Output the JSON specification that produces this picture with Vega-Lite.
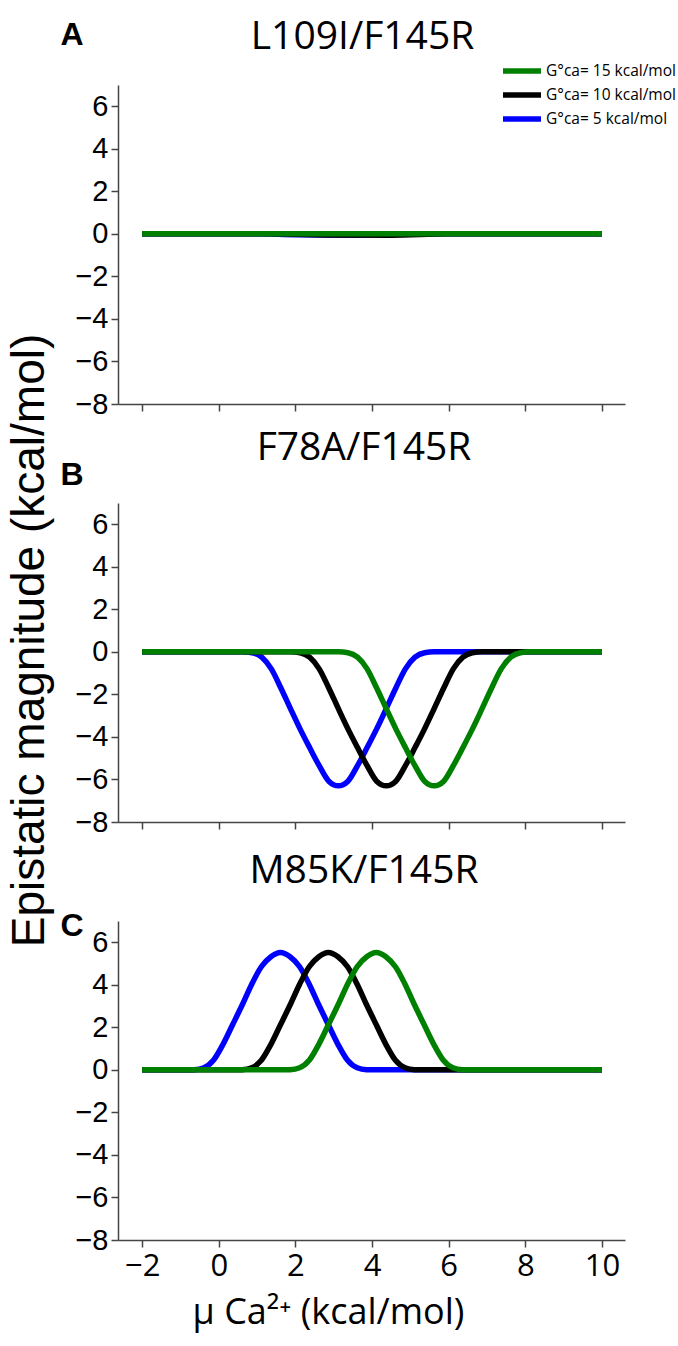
{
  "$schema": "https://vega.github.io/schema/vega-lite/v6.json",
  "padding": {"left": 6, "top": 18, "right": 6, "bottom": 10},
  "background": "white",
  "spacing": 99,
  "bounds": "flush",
  "config": {
    "view": {"stroke": null},
    "axis": {"grid": false, "domainColor": "#444444", "tickColor": "#444444", "domainWidth": 1.5, "tickWidth": 1.5, "tickSize": 7, "labelFont": "Liberation Sans", "labelFontSize": 29, "labelColor": "black", "titleColor": "black", "titleFontWeight": "normal"},
    "legend": {"orient": "none", "legendX": 391, "legendY": -27, "symbolType": "M-1.9,0L1.9,0", "symbolStrokeWidth": 5.5, "symbolSize": 400, "labelFont": "Open Sans", "labelFontSize": 15.5, "labelColor": "black", "rowPadding": -1, "labelOffset": 11, "labelLimit": 300}
  },
  "datasets": {
    "d": [
      {"p":"A","g":"5","x":-2,"y":0},{"p":"A","g":"5","x":1,"y":0},{"p":"A","g":"5","x":2,"y":-0.04},{"p":"A","g":"5","x":3,"y":-0.05},{"p":"A","g":"5","x":4,"y":-0.03},{"p":"A","g":"5","x":5,"y":0},{"p":"A","g":"5","x":10,"y":0},
      {"p":"A","g":"10","x":-2,"y":0},{"p":"A","g":"10","x":1.5,"y":0},{"p":"A","g":"10","x":3,"y":-0.05},{"p":"A","g":"10","x":4.5,"y":-0.06},{"p":"A","g":"10","x":6,"y":0},{"p":"A","g":"10","x":10,"y":0},
      {"p":"A","g":"15","x":-2,"y":0},{"p":"A","g":"15","x":4,"y":0},{"p":"A","g":"15","x":10,"y":0},

      {"p":"B","g":"5","x":-2,"y":0},
      {"p":"B","g":"5","x":0.62,"y":0},{"p":"B","g":"5","x":0.87,"y":-0.04},{"p":"B","g":"5","x":1.12,"y":-0.25},{"p":"B","g":"5","x":1.37,"y":-0.8},{"p":"B","g":"5","x":1.62,"y":-1.7},{"p":"B","g":"5","x":1.87,"y":-2.67},{"p":"B","g":"5","x":2.12,"y":-3.62},{"p":"B","g":"5","x":2.37,"y":-4.5},{"p":"B","g":"5","x":2.62,"y":-5.35},{"p":"B","g":"5","x":2.87,"y":-6.08},{"p":"B","g":"5","x":3.12,"y":-6.3},{"p":"B","g":"5","x":3.37,"y":-6.08},{"p":"B","g":"5","x":3.62,"y":-5.35},{"p":"B","g":"5","x":3.87,"y":-4.5},{"p":"B","g":"5","x":4.12,"y":-3.62},{"p":"B","g":"5","x":4.37,"y":-2.67},{"p":"B","g":"5","x":4.62,"y":-1.7},{"p":"B","g":"5","x":4.87,"y":-0.8},{"p":"B","g":"5","x":5.12,"y":-0.25},{"p":"B","g":"5","x":5.37,"y":-0.04},{"p":"B","g":"5","x":5.62,"y":0},
      {"p":"B","g":"5","x":10,"y":0},

      {"p":"B","g":"10","x":-2,"y":0},
      {"p":"B","g":"10","x":1.87,"y":0},{"p":"B","g":"10","x":2.12,"y":-0.04},{"p":"B","g":"10","x":2.37,"y":-0.25},{"p":"B","g":"10","x":2.62,"y":-0.8},{"p":"B","g":"10","x":2.87,"y":-1.7},{"p":"B","g":"10","x":3.12,"y":-2.67},{"p":"B","g":"10","x":3.37,"y":-3.62},{"p":"B","g":"10","x":3.62,"y":-4.5},{"p":"B","g":"10","x":3.87,"y":-5.35},{"p":"B","g":"10","x":4.12,"y":-6.08},{"p":"B","g":"10","x":4.37,"y":-6.3},{"p":"B","g":"10","x":4.62,"y":-6.08},{"p":"B","g":"10","x":4.87,"y":-5.35},{"p":"B","g":"10","x":5.12,"y":-4.5},{"p":"B","g":"10","x":5.37,"y":-3.62},{"p":"B","g":"10","x":5.62,"y":-2.67},{"p":"B","g":"10","x":5.87,"y":-1.7},{"p":"B","g":"10","x":6.12,"y":-0.8},{"p":"B","g":"10","x":6.37,"y":-0.25},{"p":"B","g":"10","x":6.62,"y":-0.04},{"p":"B","g":"10","x":6.87,"y":0},
      {"p":"B","g":"10","x":10,"y":0},

      {"p":"B","g":"15","x":-2,"y":0},
      {"p":"B","g":"15","x":3.12,"y":0},{"p":"B","g":"15","x":3.37,"y":-0.04},{"p":"B","g":"15","x":3.62,"y":-0.25},{"p":"B","g":"15","x":3.87,"y":-0.8},{"p":"B","g":"15","x":4.12,"y":-1.7},{"p":"B","g":"15","x":4.37,"y":-2.67},{"p":"B","g":"15","x":4.62,"y":-3.62},{"p":"B","g":"15","x":4.87,"y":-4.5},{"p":"B","g":"15","x":5.12,"y":-5.35},{"p":"B","g":"15","x":5.37,"y":-6.08},{"p":"B","g":"15","x":5.62,"y":-6.3},{"p":"B","g":"15","x":5.87,"y":-6.08},{"p":"B","g":"15","x":6.12,"y":-5.35},{"p":"B","g":"15","x":6.37,"y":-4.5},{"p":"B","g":"15","x":6.62,"y":-3.62},{"p":"B","g":"15","x":6.87,"y":-2.67},{"p":"B","g":"15","x":7.12,"y":-1.7},{"p":"B","g":"15","x":7.37,"y":-0.8},{"p":"B","g":"15","x":7.62,"y":-0.25},{"p":"B","g":"15","x":7.87,"y":-0.04},{"p":"B","g":"15","x":8.12,"y":0},
      {"p":"B","g":"15","x":10,"y":0},

      {"p":"C","g":"5","x":-2,"y":0},
      {"p":"C","g":"5","x":-0.89,"y":0},{"p":"C","g":"5","x":-0.64,"y":0.01},{"p":"C","g":"5","x":-0.39,"y":0.1},{"p":"C","g":"5","x":-0.14,"y":0.45},{"p":"C","g":"5","x":0.11,"y":1.2},{"p":"C","g":"5","x":0.36,"y":2.12},{"p":"C","g":"5","x":0.61,"y":3.05},{"p":"C","g":"5","x":0.86,"y":4.03},{"p":"C","g":"5","x":1.11,"y":4.85},{"p":"C","g":"5","x":1.36,"y":5.32},{"p":"C","g":"5","x":1.61,"y":5.52},{"p":"C","g":"5","x":1.86,"y":5.32},{"p":"C","g":"5","x":2.11,"y":4.85},{"p":"C","g":"5","x":2.36,"y":4.03},{"p":"C","g":"5","x":2.61,"y":3.05},{"p":"C","g":"5","x":2.86,"y":2.12},{"p":"C","g":"5","x":3.11,"y":1.2},{"p":"C","g":"5","x":3.36,"y":0.45},{"p":"C","g":"5","x":3.61,"y":0.1},{"p":"C","g":"5","x":3.86,"y":0.01},{"p":"C","g":"5","x":4.11,"y":0},
      {"p":"C","g":"5","x":10,"y":0},

      {"p":"C","g":"10","x":-2,"y":0},
      {"p":"C","g":"10","x":0.36,"y":0},{"p":"C","g":"10","x":0.61,"y":0.01},{"p":"C","g":"10","x":0.86,"y":0.1},{"p":"C","g":"10","x":1.11,"y":0.45},{"p":"C","g":"10","x":1.36,"y":1.2},{"p":"C","g":"10","x":1.61,"y":2.12},{"p":"C","g":"10","x":1.86,"y":3.05},{"p":"C","g":"10","x":2.11,"y":4.03},{"p":"C","g":"10","x":2.36,"y":4.85},{"p":"C","g":"10","x":2.61,"y":5.32},{"p":"C","g":"10","x":2.86,"y":5.52},{"p":"C","g":"10","x":3.11,"y":5.32},{"p":"C","g":"10","x":3.36,"y":4.85},{"p":"C","g":"10","x":3.61,"y":4.03},{"p":"C","g":"10","x":3.86,"y":3.05},{"p":"C","g":"10","x":4.11,"y":2.12},{"p":"C","g":"10","x":4.36,"y":1.2},{"p":"C","g":"10","x":4.61,"y":0.45},{"p":"C","g":"10","x":4.86,"y":0.1},{"p":"C","g":"10","x":5.11,"y":0.01},{"p":"C","g":"10","x":5.36,"y":0},
      {"p":"C","g":"10","x":10,"y":0},

      {"p":"C","g":"15","x":-2,"y":0},
      {"p":"C","g":"15","x":1.61,"y":0},{"p":"C","g":"15","x":1.86,"y":0.01},{"p":"C","g":"15","x":2.11,"y":0.1},{"p":"C","g":"15","x":2.36,"y":0.45},{"p":"C","g":"15","x":2.61,"y":1.2},{"p":"C","g":"15","x":2.86,"y":2.12},{"p":"C","g":"15","x":3.11,"y":3.05},{"p":"C","g":"15","x":3.36,"y":4.03},{"p":"C","g":"15","x":3.61,"y":4.85},{"p":"C","g":"15","x":3.86,"y":5.32},{"p":"C","g":"15","x":4.11,"y":5.52},{"p":"C","g":"15","x":4.36,"y":5.32},{"p":"C","g":"15","x":4.61,"y":4.85},{"p":"C","g":"15","x":4.86,"y":4.03},{"p":"C","g":"15","x":5.11,"y":3.05},{"p":"C","g":"15","x":5.36,"y":2.12},{"p":"C","g":"15","x":5.61,"y":1.2},{"p":"C","g":"15","x":5.86,"y":0.45},{"p":"C","g":"15","x":6.11,"y":0.1},{"p":"C","g":"15","x":6.36,"y":0.01},{"p":"C","g":"15","x":6.61,"y":0},
      {"p":"C","g":"15","x":10,"y":0}
    ]
  },
  "vconcat": [
    {
      "width": 507, "height": 319,
      "layer": [
        {
          "data": {"name": "d"},
          "transform": [{"filter": "datum.p == 'A'"}],
          "mark": {"type": "line", "strokeWidth": 5.5, "interpolate": "monotone"},
          "encoding": {
            "x": {"field": "x", "type": "quantitative", "scale": {"domain": [-2.63, 10.6], "nice": false, "zero": false}, "axis": {"values": [-2, 0, 2, 4, 6, 8, 10], "labels": false, "title": null}},
            "y": {"field": "y", "type": "quantitative", "scale": {"domain": [-8, 7], "nice": false, "zero": false}, "axis": {"values": [-8, -6, -4, -2, 0, 2, 4, 6], "format": "d", "title": null, "labelPadding": 3}},
            "color": {"field": "g", "type": "nominal", "title": null, "scale": {"domain": ["15", "10", "5"], "range": ["#008000", "#000000", "#0000ff"]}, "legend": {"labelExpr": "'G°ca= ' + datum.label + ' kcal/mol'"}}
          }
        },
        {
          "data": {"values": [{}]},
          "mark": {"type": "text", "font": "Liberation Sans", "fontWeight": "bold", "fontSize": 32, "baseline": "middle", "align": "center", "color": "black"},
          "encoding": {"x": {"datum": -3.83, "type": "quantitative"}, "y": {"datum": 9.35, "type": "quantitative"}, "text": {"value": "A"}}
        },
        {
          "data": {"values": [{}]},
          "mark": {"type": "text", "font": "Open Sans", "fontSize": 39, "baseline": "alphabetic", "align": "center", "color": "black"},
          "encoding": {"x": {"datum": 3.75, "type": "quantitative"}, "y": {"datum": 8.69, "type": "quantitative"}, "text": {"value": "L109I/F145R"}}
        }
      ]
    },
    {
      "width": 507, "height": 319,
      "layer": [
        {
          "data": {"name": "d"},
          "transform": [{"filter": "datum.p == 'B'"}],
          "mark": {"type": "line", "strokeWidth": 5.5, "interpolate": "monotone"},
          "encoding": {
            "x": {"field": "x", "type": "quantitative", "scale": {"domain": [-2.63, 10.6], "nice": false, "zero": false}, "axis": {"values": [-2, 0, 2, 4, 6, 8, 10], "labels": false, "title": null}},
            "y": {"field": "y", "type": "quantitative", "scale": {"domain": [-8, 7], "nice": false, "zero": false}, "axis": {"values": [-8, -6, -4, -2, 0, 2, 4, 6], "format": "d", "title": "Epistatic magnitude (kcal/mol)", "titleFont": "Liberation Sans", "titleFontSize": 46, "titlePadding": 21, "titleY": 137, "labelPadding": 3}},
            "color": {"field": "g", "type": "nominal", "title": null, "scale": {"domain": ["15", "10", "5"], "range": ["#008000", "#000000", "#0000ff"]}, "legend": {"labelExpr": "'G°ca= ' + datum.label + ' kcal/mol'"}}
          }
        },
        {
          "data": {"values": [{}]},
          "mark": {"type": "text", "font": "Liberation Sans", "fontWeight": "bold", "fontSize": 32, "baseline": "middle", "align": "center", "color": "black"},
          "encoding": {"x": {"datum": -3.83, "type": "quantitative"}, "y": {"datum": 8.3, "type": "quantitative"}, "text": {"value": "B"}}
        },
        {
          "data": {"values": [{}]},
          "mark": {"type": "text", "font": "Open Sans", "fontSize": 39, "baseline": "alphabetic", "align": "center", "color": "black"},
          "encoding": {"x": {"datum": 3.79, "type": "quantitative"}, "y": {"datum": 9.0, "type": "quantitative"}, "text": {"value": "F78A/F145R"}}
        }
      ]
    },
    {
      "width": 507, "height": 319,
      "layer": [
        {
          "data": {"name": "d"},
          "transform": [{"filter": "datum.p == 'C'"}],
          "mark": {"type": "line", "strokeWidth": 5.5, "interpolate": "monotone"},
          "encoding": {
            "x": {"field": "x", "type": "quantitative", "scale": {"domain": [-2.63, 10.6], "nice": false, "zero": false}, "axis": {"values": [-2, 0, 2, 4, 6, 8, 10], "format": "d", "labelFont": "Open Sans", "labelFontSize": 31, "labelPadding": 4, "title": "μ Ca²⁺ (kcal/mol)", "titleFont": "Open Sans", "titleFontSize": 36, "titlePadding": 14, "titleX": 210}},
            "y": {"field": "y", "type": "quantitative", "scale": {"domain": [-8, 7], "nice": false, "zero": false}, "axis": {"values": [-8, -6, -4, -2, 0, 2, 4, 6], "format": "d", "title": null, "labelPadding": 3}},
            "color": {"field": "g", "type": "nominal", "title": null, "scale": {"domain": ["15", "10", "5"], "range": ["#008000", "#000000", "#0000ff"]}, "legend": {"labelExpr": "'G°ca= ' + datum.label + ' kcal/mol'"}}
          }
        },
        {
          "data": {"values": [{}]},
          "mark": {"type": "text", "font": "Liberation Sans", "fontWeight": "bold", "fontSize": 32, "baseline": "middle", "align": "center", "color": "black"},
          "encoding": {"x": {"datum": -3.83, "type": "quantitative"}, "y": {"datum": 6.76, "type": "quantitative"}, "text": {"value": "C"}}
        },
        {
          "data": {"values": [{}]},
          "mark": {"type": "text", "font": "Open Sans", "fontSize": 39, "baseline": "alphabetic", "align": "center", "color": "black"},
          "encoding": {"x": {"datum": 3.79, "type": "quantitative"}, "y": {"datum": 8.79, "type": "quantitative"}, "text": {"value": "M85K/F145R"}}
        }
      ]
    }
  ],
  "resolve": {"scale": {"color": "shared"}}
}
